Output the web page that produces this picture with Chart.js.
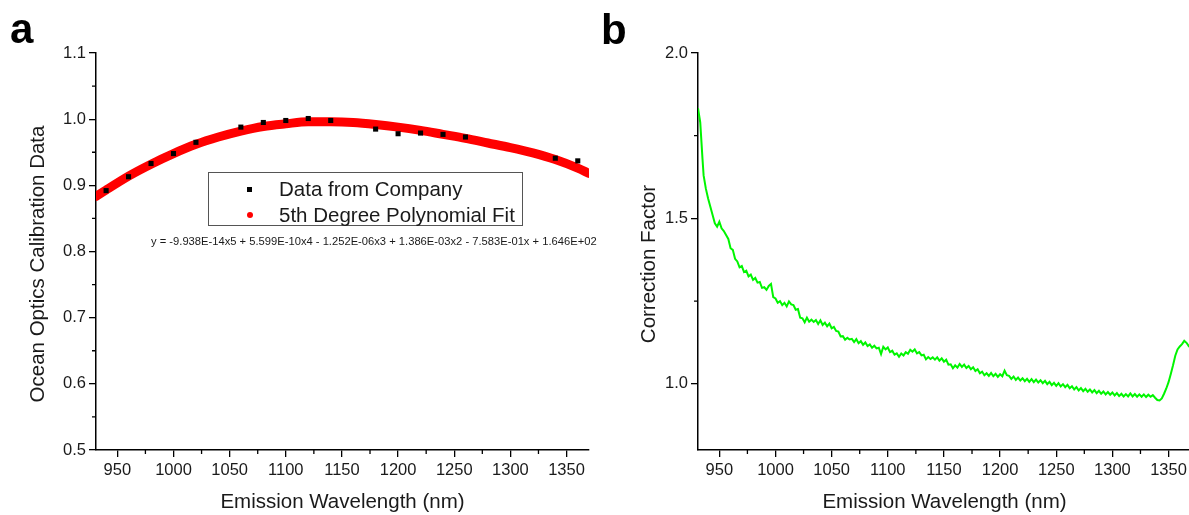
<!DOCTYPE html>
<html><head><meta charset="utf-8">
<script src="https://cdn.jsdelivr.net/npm/chart.js@4.4.1/dist/chart.umd.min.js"></script>
<style>
html,body{margin:0;padding:0;background:#fff;overflow:hidden;width:1189px;height:515px;}
#wrap{position:relative;width:1189px;height:515px;overflow:hidden;font-family:"Liberation Sans",Arial,sans-serif;color:#1a1a1a;}
canvas{position:absolute;top:0;}
#ca{left:0;} #cb{left:600px;}
.lab{position:absolute;font-weight:bold;font-size:42px;line-height:42px;color:#000;}
#legend{position:absolute;left:208px;top:172px;width:313px;height:52px;border:1px solid #555;background:#fff;}
.lt{position:absolute;left:70px;font-size:20.5px;line-height:24px;white-space:nowrap;color:#1a1a1a;}
.mk1{position:absolute;left:38px;top:14px;width:5px;height:5px;background:#000;}
.mk2{position:absolute;left:38px;top:39px;width:6px;height:6px;border-radius:50%;background:#f00;}
#eq{position:absolute;left:151px;top:234px;font-size:11.2px;line-height:14px;white-space:nowrap;color:#1a1a1a;}
</style></head>
<body>
<div id="wrap">
<canvas id="ca" width="600" height="515"></canvas>
<canvas id="cb" width="600" height="515"></canvas>
<div class="lab" style="left:10px;top:8px;">a</div>
<div class="lab" style="left:601px;top:9px;">b</div>
<div id="legend">
  <div class="mk1"></div><div class="lt" style="top:4px;">Data from Company</div>
  <div class="mk2"></div><div class="lt" style="top:30px;">5th Degree Polynomial Fit</div>
</div>
<div id="eq">y = -9.938E-14x5 + 5.599E-10x4 - 1.252E-06x3 + 1.386E-03x2 - 7.583E-01x + 1.646E+02</div>
</div>
<script>
// ---- Panel a data ----
const calWavelengths = [940,960,980,1000,1020,1060,1080,1100,1120,1140,1180,1200,1220,1240,1260,1340,1360];
const calValues      = [0.892,0.913,0.933,0.948,0.965,0.988,0.995,0.998,1.001,0.998,0.985,0.978,0.979,0.977,0.973,0.941,0.937];
const fitWavelengths = [931,940,960,980,1000,1020,1040,1060,1080,1100,1120,1140,1160,1180,1200,1220,1240,1260,1280,1300,1320,1340,1360,1370];
const fitValues      = [0.883,0.893,0.914,0.932,0.948,0.962,0.973,0.982,0.989,0.993,0.996,0.996,0.995,0.992,0.988,0.983,0.977,0.971,0.964,0.957,0.949,0.939,0.926,0.918];
// ---- Panel b data ----
const corrWavelengths = [931,933,935,936,938,940,942,944,946,948,950,952,954,956,958,
960,962,964,966,968,970,972,974,976,978,980,982,984,986,988,990,992,994,996,998,
1000,1002,1004,1006,1008,1010,1012,1014,1016,1018,1020,1022,1024,1026,1028,1030,1032,1034,1036,1038,1040,1042,1044,1046,1048,
1050,1052,1054,1056,1058,1060,1062,1064,1066,1068,1070,1072,1074,1076,1078,1080,1082,1084,1086,1088,1090,1092,1094,1096,1098,
1100,1102,1104,1106,1108,1110,1112,1114,1116,1118,1120,1122,1124,1126,1128,1130,1132,1134,1136,1138,1140,1142,1144,1146,1148,
1150,1152,1154,1156,1158,1160,1162,1164,1166,1168,1170,1172,1174,1176,1178,1180,1182,1184,1186,1188,1190,1192,1194,1196,1198,
1200,1202,1204,1206,1208,1210,1212,1214,1216,1218,1220,1222,1224,1226,1228,1230,1232,1234,1236,1238,1240,1242,1244,1246,1248,
1250,1252,1254,1256,1258,1260,1262,1264,1266,1268,1270,1272,1274,1276,1278,1280,1282,1284,1286,1288,1290,1292,1294,1296,1298,
1300,1302,1304,1306,1308,1310,1312,1314,1316,1318,1320,1322,1324,1326,1328,1330,1332,1334,1336,1338,1340,1342,1344,1346,1348,
1350,1352,1354,1356,1358,1360,1362,1364,1366,1368,1370];
const corrValues = [1.833,1.79,1.68,1.63,1.59,1.56,1.535,1.51,1.485,1.475,1.49,1.47,1.462,1.45,1.438,
1.41,1.405,1.378,1.37,1.352,1.356,1.338,1.342,1.325,1.33,1.314,1.32,1.306,1.308,1.29,1.292,1.284,1.296,1.302,1.262,
1.258,1.245,1.25,1.238,1.245,1.234,1.249,1.24,1.238,1.224,1.226,1.2,1.198,1.186,1.2,1.188,1.194,1.187,1.193,1.181,1.192,1.178,1.185,1.174,1.182,
1.168,1.172,1.16,1.158,1.143,1.144,1.133,1.139,1.134,1.136,1.126,1.135,1.123,1.129,1.118,1.125,1.114,1.119,1.109,1.115,1.107,1.109,1.09,1.112,1.104,
1.11,1.096,1.1,1.088,1.092,1.082,1.092,1.086,1.096,1.091,1.103,1.097,1.104,1.092,1.096,1.086,1.088,1.074,1.081,1.075,1.08,1.073,1.08,1.07,1.077,
1.067,1.073,1.058,1.059,1.047,1.056,1.049,1.06,1.051,1.058,1.048,1.054,1.044,1.05,1.039,1.044,1.032,1.037,1.026,1.032,1.024,1.033,1.023,1.03,1.021,
1.029,1.023,1.04,1.026,1.024,1.015,1.022,1.012,1.019,1.01,1.017,1.008,1.015,1.006,1.014,1.005,1.013,1.004,1.011,1.002,1.009,0.999,1.006,0.996,1.003,
0.994,1.002,0.992,0.999,0.99,0.997,0.987,0.993,0.983,0.99,0.98,0.987,0.978,0.985,0.976,0.983,0.974,0.981,0.972,0.979,0.97,0.977,0.968,0.975,0.967,
0.974,0.965,0.972,0.963,0.97,0.962,0.969,0.962,0.971,0.962,0.969,0.961,0.968,0.961,0.968,0.96,0.967,0.961,0.966,0.958,0.951,0.95,0.956,0.97,0.986,
1.005,1.03,1.056,1.085,1.104,1.113,1.12,1.13,1.124,1.114,1.118];
// ---- Axes ----
const xRange = [931, 1370];
const xTicks = [950,1000,1050,1100,1150,1200,1250,1300,1350];
const xMinorTicks = [975,1025,1075,1125,1175,1225,1275,1325];
const yRangeA = [0.5, 1.1];
const yTicksA = [0.5,0.6,0.7,0.8,0.9,1.0,1.1];
const yMinorA = [0.55,0.65,0.75,0.85,0.95,1.05];
const yRangeB = [0.8, 2.0];
const yTicksB = [1.0,1.5,2.0];
const yMinorB = [1.25,1.75];

const FONT = '"Liberation Sans", Arial, sans-serif';
const TXT = '#1a1a1a';

function decorPlugin(xm, ym, yTitle, titleX, titleY){
  return {id:'decor', afterDraw(chart){
    const ctx = chart.ctx, xs = chart.scales.x, ys = chart.scales.y, a = chart.chartArea;
    ctx.save(); ctx.strokeStyle = '#000'; ctx.lineWidth = 1.3;
    ctx.beginPath();
    xm.forEach(v=>{const p = xs.getPixelForValue(v); if(p<=a.right){ctx.moveTo(p,a.bottom); ctx.lineTo(p,a.bottom+4);}});
    ym.forEach(v=>{const p = ys.getPixelForValue(v); ctx.moveTo(a.left,p); ctx.lineTo(a.left-4,p);});
    ctx.stroke();
    ctx.translate(titleX, titleY); ctx.rotate(-Math.PI/2);
    ctx.fillStyle = TXT; ctx.font = '20.5px ' + FONT; ctx.textAlign = 'center'; ctx.textBaseline = 'middle';
    ctx.fillText(yTitle, 0, 0);
    ctx.restore();
  }};
}

function makeScales(yRange, yTicks, yWidth){
  return {
    x: {type:'linear', min:xRange[0], max:xRange[1],
      afterBuildTicks: s => { s.ticks = xTicks.map(v=>({value:v})); },
      afterFit: s => { s.height = 65; },
      border:{display:true, color:'#000', width:1.5},
      grid:{drawOnChartArea:false, drawTicks:true, tickLength:7, tickColor:'#000', lineWidth:1.3},
      ticks:{color:TXT, font:{family:FONT, size:16.5}, padding:4, maxRotation:0, autoSkip:false, callback:v=>String(v)},
      title:{display:true, text:'Emission Wavelength (nm)', color:TXT, font:{family:FONT, size:20.5}, padding:{top:0,bottom:0}}
    },
    y: {type:'linear', min:yRange[0], max:yRange[1],
      afterBuildTicks: s => { s.ticks = yTicks.map(v=>({value:v})); },
      afterFit: s => { s.width = yWidth; },
      border:{display:true, color:'#000', width:1.5},
      grid:{drawOnChartArea:false, drawTicks:true, tickLength:7, tickColor:'#000', lineWidth:1.3},
      ticks:{color:TXT, font:{family:FONT, size:16.5}, padding:3, autoSkip:false, callback:v=>Number(v).toFixed(1)},
      title:{display:false}
    }
  };
}

new Chart(document.getElementById('ca'), {
  type:'line',
  data:{datasets:[
    {label:'Data from Company', data: calWavelengths.map((x,i)=>({x, y:calValues[i]})),
     showLine:false, pointStyle:'rect', pointRadius:3.6, pointBackgroundColor:'#000', pointBorderWidth:0, borderColor:'#000'},
    {label:'5th Degree Polynomial Fit', data: fitWavelengths.map((x,i)=>({x, y:fitValues[i]})),
     borderColor:'#ff0000', borderWidth:9, pointRadius:0, fill:false, cubicInterpolationMode:'monotone', borderCapStyle:'round'}
  ]},
  options:{responsive:false, animation:false, devicePixelRatio:1,
    layout:{padding:{left:0, right:11, top:53, bottom:0}},
    plugins:{legend:{display:false}, tooltip:{enabled:false}},
    scales: makeScales(yRangeA, yTicksA, 96)
  },
  plugins:[decorPlugin(xMinorTicks, yMinorA, 'Ocean Optics Calibration Data', 38, 264)]
});

new Chart(document.getElementById('cb'), {
  type:'line',
  data:{datasets:[
    {label:'Correction Factor', data: corrWavelengths.map((x,i)=>({x, y:corrValues[i]})),
     borderColor:'#00f500', borderWidth:2, pointRadius:0, fill:false, tension:0}
  ]},
  options:{responsive:false, animation:false, devicePixelRatio:1,
    layout:{padding:{left:0, right:9, top:53, bottom:0}},
    plugins:{legend:{display:false}, tooltip:{enabled:false}},
    scales: makeScales(yRangeB, yTicksB, 98)
  },
  plugins:[decorPlugin(xMinorTicks, yMinorB, 'Correction Factor', 49, 264)]
});
</script>
</body></html>
